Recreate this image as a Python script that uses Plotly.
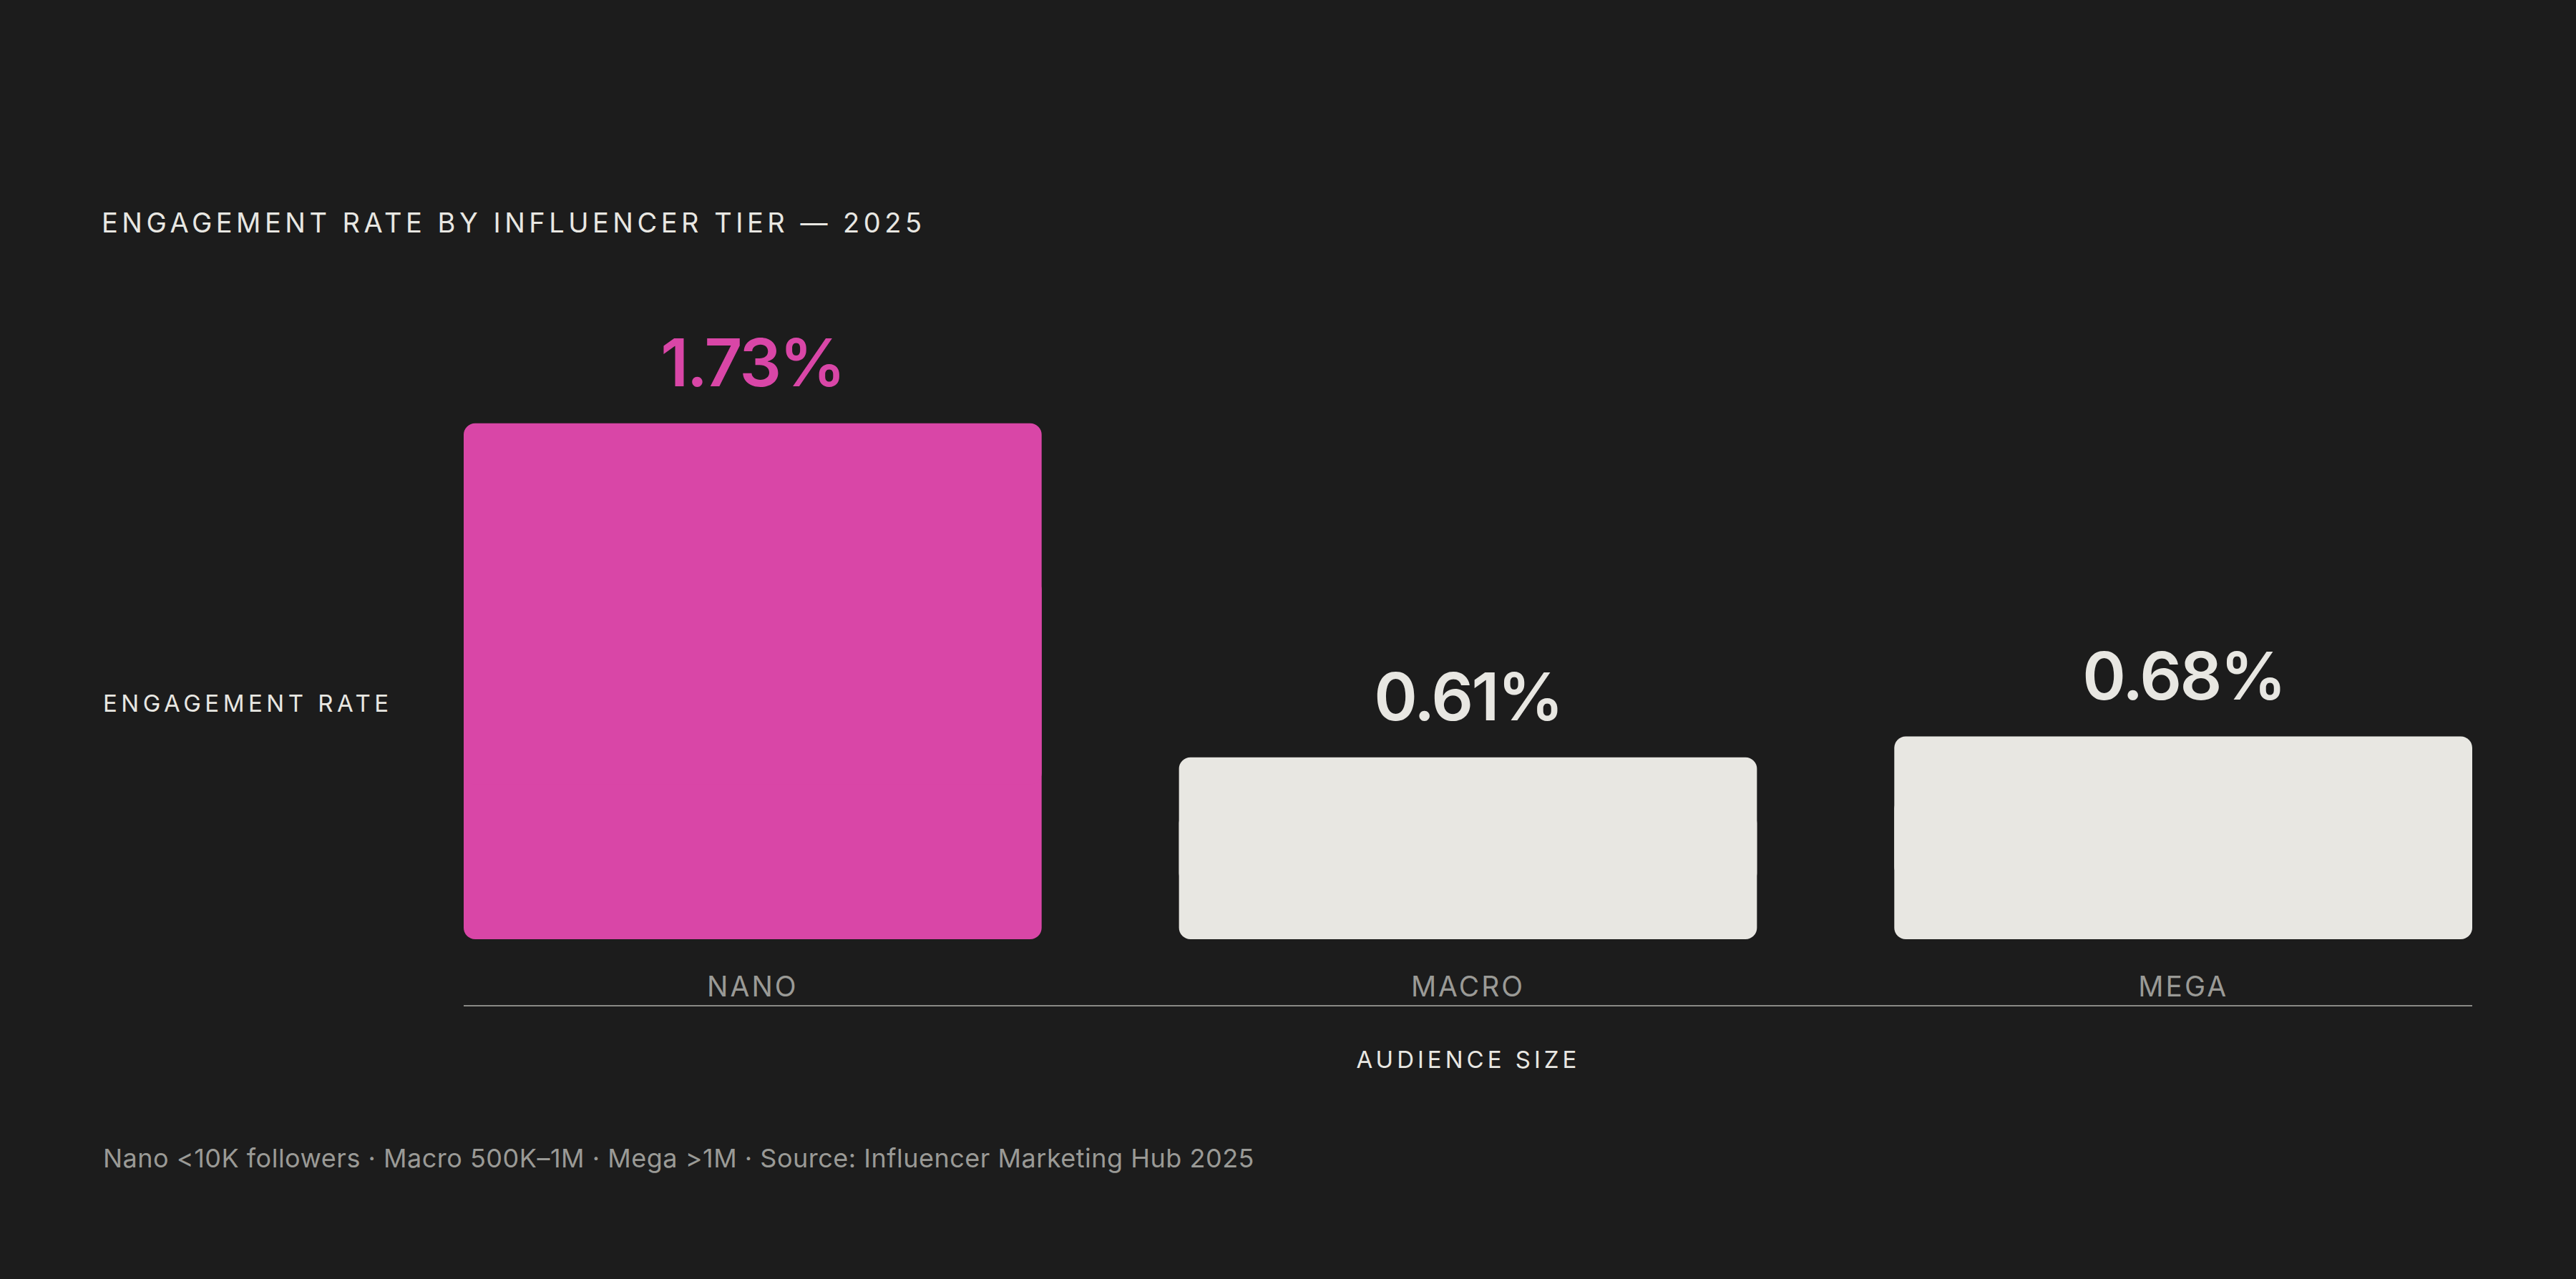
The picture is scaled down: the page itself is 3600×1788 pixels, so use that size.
import plotly.graph_objects as go

# === Дані ===
tiers = ["NANO", "MACRO", "MEGA"]
rates = [1.73, 0.61, 0.68]
rate_labels = ["1.73%", "0.61%", "0.68%"]
highlight = "NANO"

title_text = "ENGAGEMENT RATE BY INFLUENCER TIER — 2025"
y_title = "ENGAGEMENT RATE"
x_title = "AUDIENCE SIZE"
footnote = "Nano <10K followers · Macro 500K–1M · Mega >1M · Source: Influencer Marketing Hub 2025"

# === Стиль ===
BG = "#1c1c1c"
PINK = "#d946a7"
LIGHT = "#e8e7e2"
GRAY = "#9a9a96"
LINE = "#8a8a86"
FONT = "Inter, 'DejaVu Sans', sans-serif"

colors = [PINK if t == highlight else LIGHT for t in tiers]
label_colors = [PINK if t == highlight else LIGHT for t in tiers]

# бар складається з двох половин, щоб округлити і верх, і низ
top_base = [v * 0.3 for v in rates]
top_len = [v * 0.7 for v in rates]
bot_base = [v * 0.7 for v in rates]
bot_len = [-v * 0.7 for v in rates]

fig = go.Figure()
fig.add_trace(go.Bar(
    x=tiers, y=bot_len, base=bot_base,
    width=0.808,
    marker=dict(color=colors, cornerradius=16, line=dict(width=0)),
    hoverinfo="skip", showlegend=False,
))
fig.add_trace(go.Bar(
    x=tiers, y=top_len, base=top_base,
    width=0.808,
    marker=dict(color=colors, cornerradius=16, line=dict(width=0)),
    hoverinfo="skip", showlegend=False,
))

annotations = []
for t, v, lab, c in zip(tiers, rates, rate_labels, label_colors):
    annotations.append(dict(
        x=t, y=v, xref="x", yref="y", text=lab, showarrow=False,
        yanchor="bottom", yshift=28,
        font=dict(family=FONT, size=92, color=c, weight=600),
    ))

annotations += [
    dict(x=-0.1803, y=0.5, xref="paper", yref="paper", xanchor="left", yanchor="middle",
         align="left", text=y_title, showarrow=False,
         font=dict(family=FONT, size=33, color=LIGHT)),
    dict(x=0.5, y=-0.09, xref="paper", yref="paper", xanchor="center", yanchor="middle",
         text=x_title, showarrow=False, font=dict(family=FONT, size=33, color=LIGHT)),
    dict(x=-0.1803, y=-0.2536, xref="paper", yref="paper", xanchor="left", yanchor="middle",
         align="left", text=footnote, showarrow=False,
         font=dict(family=FONT, size=36, color=GRAY)),
]

fig.update_layout(
    width=3600, height=1788,
    paper_bgcolor=BG, plot_bgcolor=BG,
    barmode="overlay",
    margin=dict(l=648, r=145, t=561, b=383),
    title=dict(
        text=title_text, x=142 / 3600, xanchor="left", xref="container",
        y=1 - 312 / 1788, yanchor="middle", yref="container",
        font=dict(family=FONT, size=38, color=LIGHT),
    ),
    xaxis=dict(
        type="category", categoryorder="array", categoryarray=tiers,
        range=[-0.404, 2.404],
        showline=True, linecolor=LINE, linewidth=2,
        showgrid=False, zeroline=False, ticks="",
        ticklabelposition="inside", ticklabelstandoff=9,
        tickfont=dict(family=FONT, size=39, color=GRAY),
    ),
    yaxis=dict(
        range=[-0.2207, 1.804],
        showgrid=False, zeroline=False, showticklabels=False, showline=False,
    ),
    annotations=annotations,
)

# розрядка літер як в оригіналі + прибрати відступи сторінки
css = (
    "body{margin:0;overflow:hidden;background:#1c1c1c}"
    ".gtitle{letter-spacing:5.5px}"
    ".xtick text{letter-spacing:3px}"
    ".annotation[data-index='0'] text,.annotation[data-index='1'] text,"
    ".annotation[data-index='2'] text{letter-spacing:-2.5px}"
    ".annotation[data-index='3'] text{letter-spacing:5.5px}"
    ".annotation[data-index='4'] text{letter-spacing:5px}"
    ".annotation[data-index='5'] text{letter-spacing:0.5px}"
)
post = (
    "var s=document.createElement('style');"
    "s.textContent=\"" + css + "\";"
    "document.head.appendChild(s);"
)

fig.write_html("out.html", post_script=post, config={"displayModeBar": False})
